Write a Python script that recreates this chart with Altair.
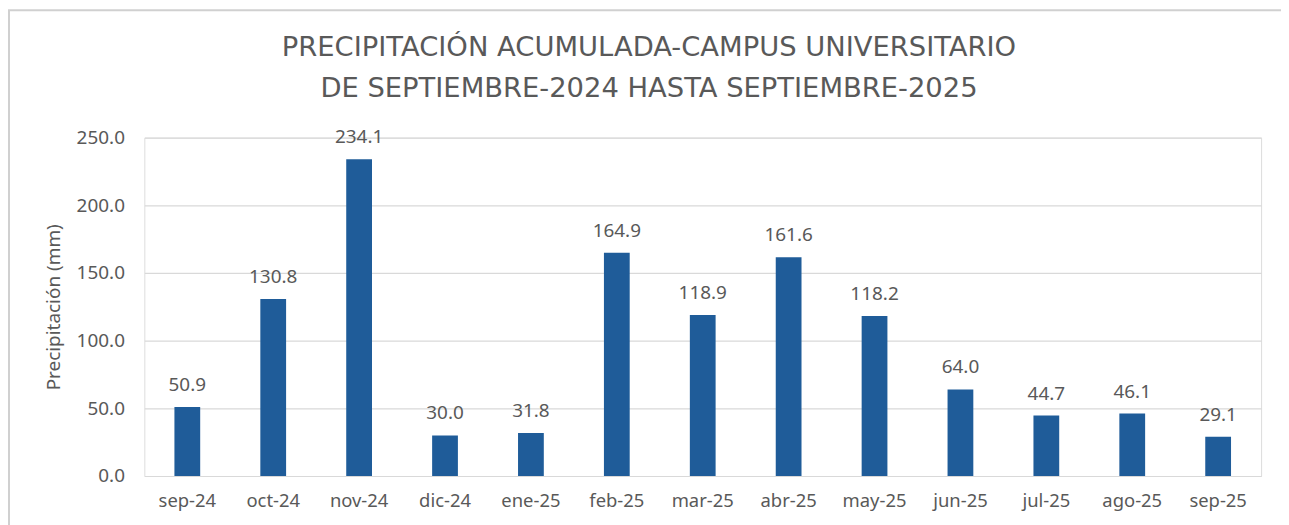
import altair as alt
import pandas as pd

months = ["sep-24", "oct-24", "nov-24", "dic-24", "ene-25", "feb-25", "mar-25",
          "abr-25", "may-25", "jun-25", "jul-25", "ago-25", "sep-25"]
precip = [50.9, 130.8, 234.1, 30.0, 31.8, 164.9, 118.9, 161.6, 118.2, 64.0, 44.7, 46.1, 29.1]
y_ticks = [0, 50, 100, 150, 200, 250]

df = pd.DataFrame({"mes": months, "mm": precip})
df["label"] = [f"{v:.1f}" for v in precip]

FONT = "Noto Sans"
GRAY = "#595959"
BLUE = "#1F5C99"

x = alt.X("mes:N", sort=months, title=None,
          scale=alt.Scale(paddingInner=0.7, paddingOuter=0.35),
          axis=alt.Axis(labelAngle=0, labelFontSize=18.5, labelColor=GRAY, labelFont=FONT,
                        ticks=False, domain=False, labelPadding=16))
y = alt.Y("mm:Q", title="Precipitación (mm)",
          scale=alt.Scale(domain=[0, 250], nice=False),
          axis=alt.Axis(values=y_ticks, format=".1f", labelFontSize=19, labelColor=GRAY,
                        labelFont=FONT, ticks=False, domain=False, labelPadding=20,
                        gridColor="#d9d9d9", gridWidth=1.2,
                        titleFontSize=19, titleColor=GRAY, titleFont=FONT,
                        titleFontWeight="normal", titlePadding=13))

base = alt.Chart(df)
bars = base.mark_bar(color=BLUE).encode(x=x, y=y)
labels = base.mark_text(baseline="middle", dy=-22, fontSize=19, color=GRAY, font=FONT).encode(
    x=alt.X("mes:N", sort=months), y="mm:Q", text="label:N")

frame_data = alt.Data(values=[{"a": 1}])
top_line = alt.Chart(frame_data).mark_rule(color="#d0d0d0", strokeWidth=2, clip=False).encode(
    x=alt.value(-137), x2=alt.value(1160), y=alt.value(-128))
left_line = alt.Chart(frame_data).mark_rule(color="#d0d0d0", strokeWidth=2, clip=False).encode(
    x=alt.value(-136), y=alt.value(-128), y2=alt.value(420))

chart = alt.layer(bars, labels, top_line, left_line).properties(
    width=1122, height=340,
    autosize=alt.AutoSizeParams(type="none"),
    padding={"left": 137, "top": 129, "right": 20, "bottom": 50},
    title=alt.TitleParams(
        text=["PRECIPITACIÓN ACUMULADA-CAMPUS UNIVERSITARIO",
              "DE SEPTIEMBRE-2024 HASTA SEPTIEMBRE-2025"],
        fontSize=27.5, font="DejaVu Sans", fontWeight="normal", color=GRAY,
        anchor="middle", frame="group", dx=-54, offset=-94, lineHeight=41),
).configure_view(stroke=None).configure(background="white")

chart.save("out.html", embed_options={"renderer": "svg", "actions": False})
